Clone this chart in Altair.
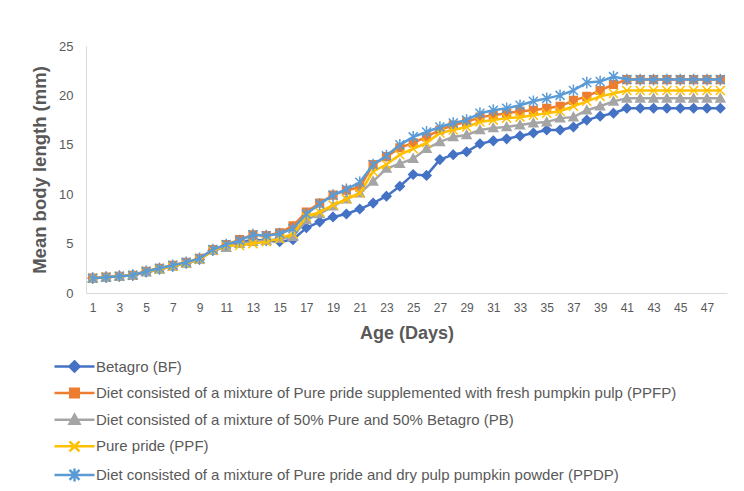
import altair as alt
import pandas as pd

days = list(range(1, 49))

series_names = [
    "Betagro (BF)",
    "Diet consisted of a mixture of Pure pride supplemented with  fresh pumpkin pulp (PPFP)",
    "Diet consisted of a mixture of 50% Pure and 50% Betagro (PB)",
    "Pure pride (PPF)",
    "Diet consisted of a mixture of  Pure pride and dry  pulp pumpkin powder (PPDP)",
]

bf = [1.5, 1.6, 1.7, 1.8, 2.1, 2.4, 2.7, 3.0, 3.4, 4.3,
      4.8, 5.1, 5.4, 5.3, 5.2, 5.4, 6.6, 7.2, 7.7, 8.0,
      8.5, 9.1, 9.8, 10.8, 12.0, 11.9, 13.5, 14.0, 14.3, 15.1,
      15.4, 15.6, 15.9, 16.2, 16.5, 16.5, 16.8, 17.5, 17.9, 18.2,
      18.7, 18.7, 18.7, 18.7, 18.7, 18.7, 18.7, 18.7]
ppfp = [1.5, 1.6, 1.7, 1.8, 2.2, 2.5, 2.8, 3.1, 3.5, 4.4,
        4.9, 5.4, 5.9, 5.8, 6.1, 6.8, 8.2, 9.1, 9.9, 10.4,
        10.7, 13.0, 13.8, 14.7, 15.2, 15.8, 16.5, 17.0, 17.3, 17.8,
        18.0, 18.2, 18.4, 18.5, 18.7, 18.9, 19.5, 19.9, 20.5, 21.1,
        21.6, 21.6, 21.6, 21.6, 21.6, 21.6, 21.6, 21.6]
pb = [1.5, 1.6, 1.7, 1.8, 2.1, 2.4, 2.7, 3.0, 3.4, 4.3,
      4.6, 5.0, 5.2, 5.3, 5.5, 5.7, 7.4, 8.0, 8.8, 9.5,
      10.1, 11.3, 12.6, 13.1, 13.6, 14.6, 15.3, 15.8, 16.0, 16.5,
      16.7, 16.8, 17.0, 17.2, 17.3, 17.7, 17.8, 18.5, 18.9, 19.4,
      19.7, 19.7, 19.7, 19.7, 19.7, 19.7, 19.7, 19.7]
ppf = [1.5, 1.6, 1.7, 1.8, 2.2, 2.4, 2.7, 3.0, 3.4, 4.3,
       4.8, 4.8, 5.0, 5.2, 5.5, 6.0, 7.7, 8.2, 8.9, 9.5,
       10.1, 12.3, 13.0, 14.0, 14.6, 15.2, 16.2, 16.5, 16.8, 17.3,
       17.5, 17.7, 17.8, 18.0, 18.2, 18.4, 18.9, 19.4, 19.9, 20.2,
       20.5, 20.5, 20.5, 20.5, 20.5, 20.5, 20.5, 20.5]
ppdp = [1.5, 1.6, 1.7, 1.8, 2.2, 2.5, 2.8, 3.1, 3.5, 4.4,
        4.9, 5.3, 5.9, 5.8, 6.0, 6.5, 8.0, 9.0, 9.9, 10.5,
        11.2, 13.0, 13.9, 15.0, 15.8, 16.3, 16.8, 17.2, 17.5, 18.2,
        18.5, 18.7, 19.0, 19.4, 19.7, 20.0, 20.5, 21.3, 21.4, 21.9,
        21.6, 21.6, 21.6, 21.6, 21.6, 21.6, 21.6, 21.6]

values = [bf, ppfp, pb, ppf, ppdp]
colors = ["#4472C4", "#ED7D31", "#A5A5A5", "#FFC000", "#5B9BD5"]

marker_paths = [
    "M0,-1L1,0L0,1L-1,0Z",
    "M-0.85,-0.85L0.85,-0.85L0.85,0.85L-0.85,0.85Z",
    "M0,-1L1,0.8L-1,0.8Z",
    "M-1,-1L1,1M-1,1L1,-1",
    "M-1,-1L1,1M-1,1L1,-1M0,-1.3L0,1.3",
]
legend_paths = [
    "M-4,0L4,0M0,-1L1,0L0,1L-1,0Z",
    "M-4,0L4,0M-0.85,-0.85L0.85,-0.85L0.85,0.85L-0.85,0.85Z",
    "M-4,0L4,0M0,-1L1,0.8L-1,0.8Z",
    "M-4,0L4,0M-1,-1L1,1M-1,1L1,-1",
    "M-4,0L4,0M-1,-1L1,1M-1,1L1,-1M0,-1.3L0,1.3",
]

rows = []
for name, vals in zip(series_names, values):
    for d, v in zip(days, vals):
        rows.append({"day": d, "length": v, "series": name})
df = pd.DataFrame(rows)

x_enc = alt.X(
    "day:Q",
    scale=alt.Scale(domain=[0.5, 48.5], nice=False, zero=False),
    axis=alt.Axis(
        values=[d for d in days if d % 2 == 1],
        title="Age (Days)",
        ticks=False,
        grid=False,
        domainColor="#D9D9D9",
        labelColor="#595959",
        labelFontSize=12,
        labelPadding=9,
        titleFontSize=18,
        titleFontWeight="bold",
        titleColor="#595959",
        titlePadding=11,
    ),
)
y_enc = alt.Y(
    "length:Q",
    scale=alt.Scale(domain=[0, 25], nice=False),
    axis=alt.Axis(
        values=[0, 5, 10, 15, 20, 25],
        title="Mean body length (mm)",
        ticks=False,
        grid=False,
        domainColor="#D9D9D9",
        labelColor="#595959",
        labelFontSize=13,
        labelPadding=13,
        titleFontSize=18.5,
        titleFontWeight="bold",
        titleColor="#595959",
        titlePadding=9,
    ),
)

base = alt.Chart(df)
layers = []
for name, col, path in zip(series_names, colors, marker_paths):
    sub = base.transform_filter(alt.datum.series == name)
    layers.append(sub.mark_line(color=col, strokeWidth=2.5).encode(x=x_enc, y=y_enc))
    layers.append(
        sub.mark_point(shape=path, filled=True, size=81, color=col, stroke=col,
                       strokeWidth=1.5, opacity=1).encode(x=x_enc, y=y_enc)
    )

legend = alt.Legend(
    title=None,
    orient="none",
    legendX=-19,
    legendY=313,
    padding=0,
    symbolSize=100,
    symbolStrokeWidth=2.5,
    symbolOpacity=1,
    labelFontSize=15,
    labelColor="#595959",
    labelOffset=14,
    labelLimit=0,
    rowPadding=6.6,
    direction="vertical",
)
legend_layer = base.transform_filter("false").mark_point(filled=True, opacity=1).encode(
    x=x_enc,
    y=y_enc,
    color=alt.Color("series:N", scale=alt.Scale(domain=series_names, range=colors), legend=legend, sort=series_names),
    stroke=alt.Stroke("series:N", scale=alt.Scale(domain=series_names, range=colors), legend=legend, sort=series_names),
    shape=alt.Shape("series:N", scale=alt.Scale(domain=series_names, range=legend_paths), legend=legend, sort=series_names),
)

chart = alt.layer(*layers, legend_layer).properties(
    width=641,
    height=247,
    autosize=alt.AutoSizeParams(type="none"),
    padding={"left": 78, "top": 38, "right": 9, "bottom": 190},
).configure(
    font="Liberation Sans",
    background="white",
).configure_view(stroke=None)

chart.save("out.html", embed_options={"renderer": "svg", "actions": False})
